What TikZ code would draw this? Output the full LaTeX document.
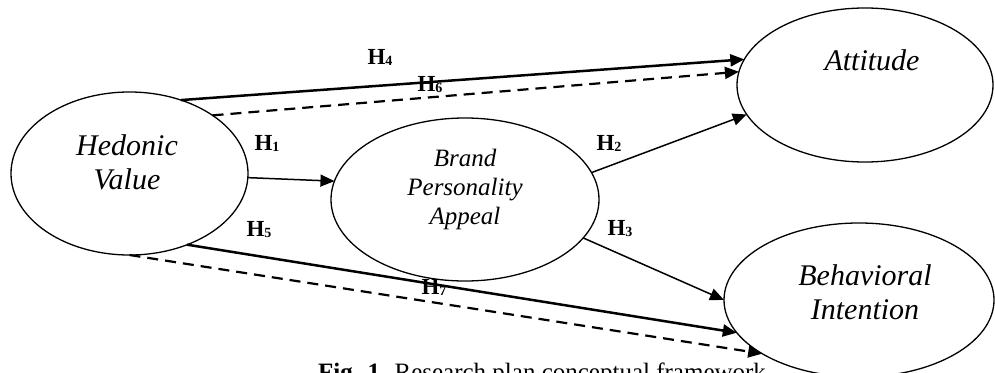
\documentclass[tikz,border=0pt]{standalone}
\usepackage{fontspec}
\setmainfont{Liberation Serif}
\usetikzlibrary{arrows.meta,shapes.geometric}
\begin{document}
\begin{tikzpicture}[x=1pt,y=-1pt,
  construct/.style={draw, ellipse, line width=1.3pt, inner sep=0pt, outer sep=0pt},
  bigtxt/.style={font=\fontsize{30}{34}\selectfont\itshape, align=center, anchor=base, inner sep=0pt},
  midtxt/.style={font=\fontsize{25}{28.7}\selectfont\itshape, align=center, anchor=base, inner sep=0pt},
  hlabel/.style={font=\fontsize{23}{23}\selectfont\bfseries, inner sep=0pt},
  tipstyle/.style={-{Triangle[length=14pt,width=12pt]}},
  thinarr/.style={tipstyle, line width=1.5pt},
  thickarr/.style={tipstyle, line width=2.5pt},
  dasharr/.style={tipstyle, line width=2.2pt, dash pattern=on 11pt off 7pt},
]
\useasboundingbox (0,0) rectangle (995,372);

% constructs
\node[construct, minimum width=237pt, minimum height=163pt] (hed) at (129.5,173.5) {};
\node[construct, minimum width=268pt, minimum height=163pt] (bpa) at (465,199.5) {};
\node[construct, minimum width=256pt, minimum height=154pt] (att) at (865,85) {};
\node[construct, minimum width=270pt, minimum height=154pt] (bi) at (859,300) {};

% texts (base anchor = baseline of the last line)
\node[bigtxt] (hedT) at (127,189) {Hedonic\\Value};
\node[midtxt] (bpaT) at (465,224) {Brand\\Personality\\Appeal};
\node[bigtxt] (attT) at (872,70) {Attitude};
\node[bigtxt] (biT) at (865,319) {Behavioral\\Intention};

% connectors
\draw[thinarr] (hed.-2) -- (bpa.172);
\draw[thickarr] (hed.55) -- (att.168);
\draw[dasharr] (hed.35) -- (att.174);
\draw[thinarr] (bpa.12) -- (att.194);
\draw[thinarr] (bpa.-18) -- (bi.180);
\draw[thickarr] (hed.-51) -- (bi.195);
\draw[dasharr] (hed.-90) -- (bi.209);

% hypothesis labels
\node[hlabel] (h1) at (267,143) {H\raisebox{-1pt}{\fontsize{14}{14}\selectfont 1}};
\node[hlabel] (h2) at (609,143) {H\raisebox{-1pt}{\fontsize{14}{14}\selectfont 2}};
\node[hlabel] (h3) at (620,229) {H\raisebox{-1pt}{\fontsize{14}{14}\selectfont 3}};
\node[hlabel] (h4) at (380,57) {H\raisebox{-1pt}{\fontsize{14}{14}\selectfont 4}};
\node[hlabel] (h5) at (259,230) {H\raisebox{-1pt}{\fontsize{14}{14}\selectfont 5}};
\node[hlabel] (h6) at (430,85) {H\raisebox{-1pt}{\fontsize{14}{14}\selectfont 6}};
\node[hlabel] (h7) at (434,287) {H\raisebox{-1pt}{\fontsize{14}{14}\selectfont 7}};

% caption
\node[anchor=base west, inner sep=0pt, font=\fontsize{25}{25}\selectfont] (cap) at (318,380.5) {\textbf{Fig. 1.} Research plan conceptual framework};
\end{tikzpicture}
\end{document}
